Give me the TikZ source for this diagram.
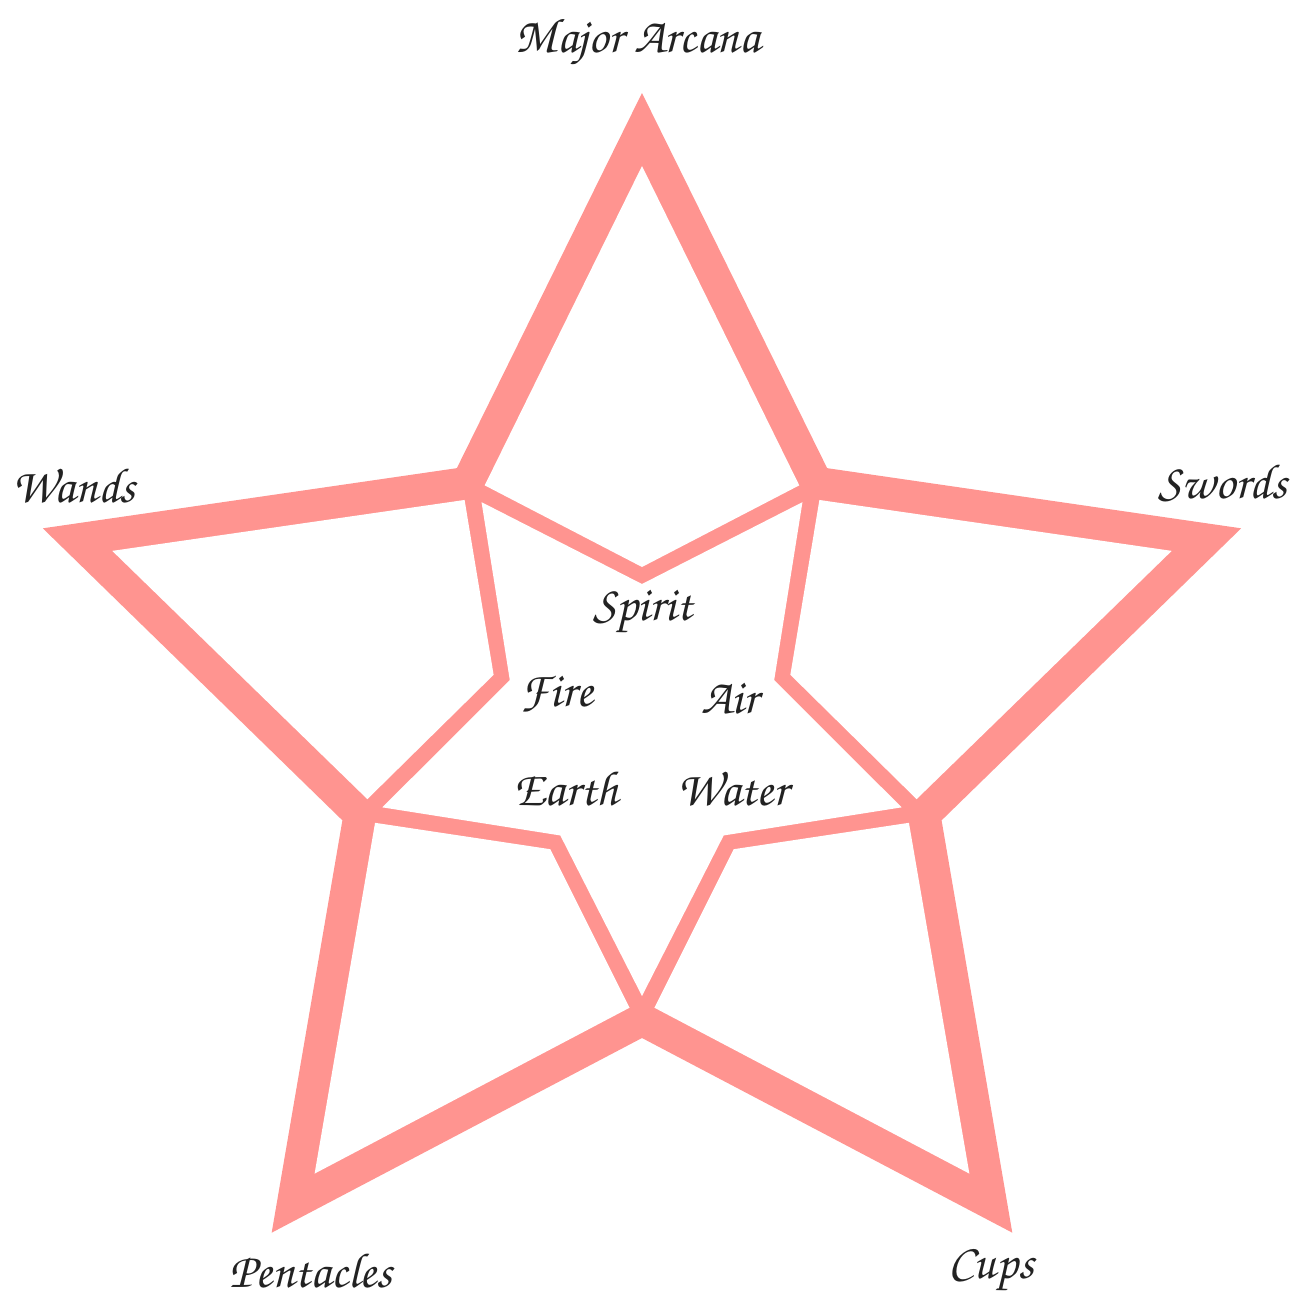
\documentclass[tikz,border=0pt]{standalone}
\usepackage[T1,TU]{fontenc}
\definecolor{petal}{RGB}{255,148,144}
\definecolor{ink}{RGB}{34,34,34}
\newcommand{\tarotfont}{\fontencoding{T1}\fontfamily{pzc}\fontseries{m}\fontshape{it}\fontsize{14}{17}\selectfont}
\begin{document}
\begin{tikzpicture}[x=0.01cm,y=0.01cm,
	label/.style={text=ink,font=\tarotfont,inner sep=0pt}]
	\useasboundingbox (-642,-576) rectangle (654,723);
	% outer star
	\fill[petal] (90:630) -- (126:315) -- (162:630) -- (198:315) -- (234:630)
		-- (270:315) -- (306:630) -- (342:315) -- (18:630) -- (54:315) -- cycle;
	% the five suits
	\foreach \a in {90,162,234,306,18}
		\fill[white] (\a:557) -- (\a+33.5:285) -- (\a:156) -- (\a-33.5:285) -- cycle;
	% elements in the middle
	\fill[white] (90:139) -- (126:273) -- (162:139) -- (198:273) -- (234:139)
		-- (270:273) -- (306:139) -- (342:273) -- (18:139) -- (54:273) -- cycle;
	\node[label] (major) at (-4,680) {Major Arcana};
	\node[label] (wands) at (-568,238) {Wands};
	\node[label] (swords) at (581,240) {Swords};
	\node[label] (pentacles) at (-331,-547) {Pentacles};
	\node[label] (cups) at (349,-548) {Cups};
	\node[label] (spirit) at (1,110) {Spirit};
	\node[label] (fire) at (-85,28) {Fire};
	\node[label] (air) at (88,24) {Air};
	\node[label] (earth) at (-76,-65) {Earth};
	\node[label] (water) at (91,-65) {Water};
\end{tikzpicture}
\end{document}
